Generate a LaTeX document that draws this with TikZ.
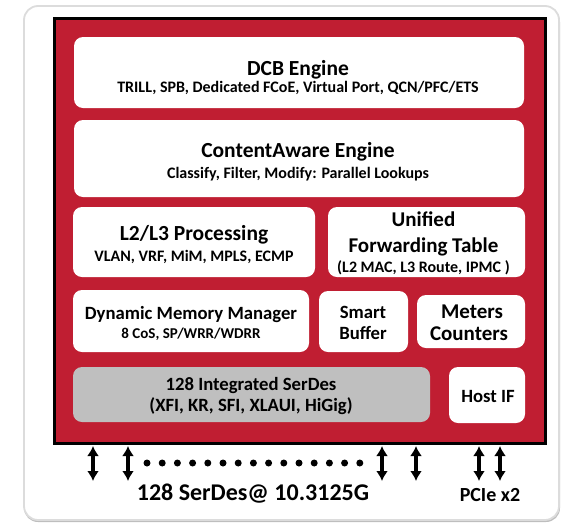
\documentclass[tikz,border=0pt]{standalone}
\usepackage{fontspec}
\setmainfont{Carlito}
\usetikzlibrary{arrows.meta}
\definecolor{chipred}{RGB}{192,30,50}
\definecolor{serdesgray}{RGB}{191,191,191}
\definecolor{framegray}{RGB}{220,220,220}
\definecolor{shadowgray}{RGB}{190,190,190}
\newcommand{\fs}[1]{\bfseries\fontsize{#1}{#1}\selectfont}
\begin{document}
\begin{tikzpicture}[x=1pt,y=-1pt,
  blk/.style={draw=none, fill=white, rounded corners=9pt, inner sep=0pt},
  gblk/.style={blk, fill=serdesgray},
  txt/.style={anchor=base, inner sep=0pt},
  ttl/.style={txt, font=\fs{21.5}},
  sub/.style={txt, font=\fs{16}},
  mid/.style={txt, font=\fs{18.7}},
  bidir/.style={{Latex[length=10pt,width=12pt]}-{Latex[length=10pt,width=12pt]}, line width=3.2pt},
  dotc/.style={fill=black, draw=none}
]
\useasboundingbox (0,0) rectangle (561,525);
% outer frame
\fill[shadowgray, rounded corners=14pt] (24,8) rectangle (560,522);
\filldraw[fill=white, draw=framegray, line width=1.8pt, rounded corners=14pt] (24,6) rectangle (559,520);
% chip
\filldraw[fill=chipred, draw=black, line width=3pt] (54.5,18.5) rectangle (545.5,443.5);
% blocks
\node[blk, minimum width=450pt, minimum height=71pt] (dcb) at (299,72.5) {};
\node[blk, minimum width=450pt, minimum height=77pt] (ca) at (299,158.5) {};
\node[blk, minimum width=242pt, minimum height=70pt] (l2) at (194,242) {};
\node[blk, minimum width=197pt, minimum height=70pt] (uft) at (426.5,242) {};
\node[blk, minimum width=236pt, minimum height=62pt] (dmm) at (191,321) {};
\node[blk, minimum width=89pt, minimum height=61pt] (sb) at (363.5,321.5) {};
\node[blk, minimum width=108pt, minimum height=53pt] (mc) at (471,321.5) {};
\node[gblk, minimum width=357pt, minimum height=55pt] (sd) at (251.5,394.5) {};
\node[blk, minimum width=76pt, minimum height=56pt] (host) at (487,395) {};
% texts
\node[ttl] (dcbT) at (298,75) {DCB Engine};
\node[sub] (dcbS) at (298,92) {TRILL, SPB, Dedicated FCoE, Virtual Port, QCN/PFC/ETS};
\node[ttl] (caT) at (298,157) {ContentAware Engine};
\node[sub] (caS) at (298,178) {Classify, Filter, Modify: Parallel Lookups};
\node[ttl] (l2T) at (194,240) {L2/L3 Processing};
\node[sub] (l2S) at (194,261) {VLAN, VRF, MiM, MPLS, ECMP};
\node[txt, font=\fs{21}] (uftA) at (423.5,226) {Unified};
\node[txt, font=\fs{21}] (uftB) at (423.5,252) {Forwarding Table};
\node[sub] (uftC) at (423.5,272) {(L2 MAC, L3 Route, IPMC )};
\node[mid] (dmmT) at (191,319) {Dynamic Memory Manager};
\node[txt, font=\fs{15}] (dmmS) at (191,338) {8 CoS, SP/WRR/WDRR};
\node[mid] (sbA) at (363,318) {Smart};
\node[mid] (sbB) at (363,339) {Buffer};
\node[txt, font=\fs{21}] (mcA) at (472,318) {Meters};
\node[txt, font=\fs{21}] (mcB) at (469,340) {Counters};
\node[mid] (sdA) at (251,390) {128 Integrated SerDes};
\node[mid] (sdB) at (251,411) {(XFI, KR, SFI, XLAUI, HiGig)};
\node[mid] (hostT) at (488,402) {Host IF};
% arrows
\foreach \i/\x in {1/93,2/128,3/382,4/416,5/479,6/500}{
  \coordinate (t\i) at (\x,446);
  \coordinate (b\i) at (\x,481);
  \draw[bidir] (t\i) -- (b\i);
}
\foreach \k in {0,...,14}{
  \fill[dotc] (147+15.2*\k,463) circle (3.5pt);
}
\node[txt, font=\fs{24}] (serdesL) at (253,500) {128 SerDes@ 10.3125G};
\node[txt, font=\fs{20}] (pcieL) at (490,501) {PCIe x2};
\end{tikzpicture}
\end{document}
